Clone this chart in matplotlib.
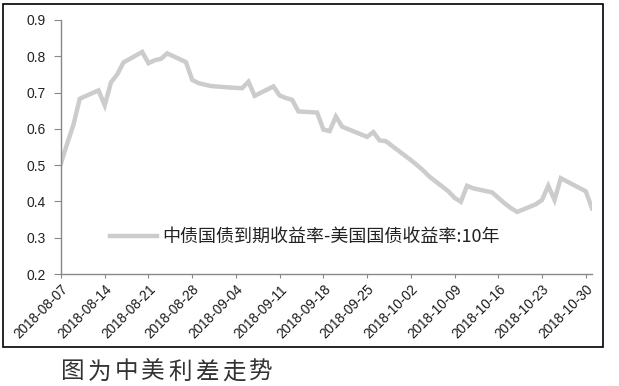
import matplotlib
matplotlib.use("Agg")
import matplotlib.pyplot as plt
import pandas as pd
from matplotlib.patches import Rectangle

dates = ["2018-08-07", "2018-08-08", "2018-08-09", "2018-08-10", "2018-08-13", "2018-08-14",
         "2018-08-15", "2018-08-16", "2018-08-17", "2018-08-20", "2018-08-21", "2018-08-22",
         "2018-08-23", "2018-08-24", "2018-08-27", "2018-08-28", "2018-08-29", "2018-08-30",
         "2018-08-31", "2018-09-03", "2018-09-04", "2018-09-05", "2018-09-06", "2018-09-07",
         "2018-09-10", "2018-09-11", "2018-09-12", "2018-09-13", "2018-09-14", "2018-09-17",
         "2018-09-18", "2018-09-19", "2018-09-20", "2018-09-21", "2018-09-24", "2018-09-25",
         "2018-09-26", "2018-09-27", "2018-09-28", "2018-10-01", "2018-10-02", "2018-10-03",
         "2018-10-04", "2018-10-05", "2018-10-08", "2018-10-09", "2018-10-10", "2018-10-11",
         "2018-10-12", "2018-10-15", "2018-10-16", "2018-10-17", "2018-10-18", "2018-10-19",
         "2018-10-22", "2018-10-23", "2018-10-24", "2018-10-25", "2018-10-26", "2018-10-29",
         "2018-10-30", "2018-10-31"]
spread = [0.505, 0.560, 0.612, 0.683, 0.706, 0.665,
          0.728, 0.750, 0.783, 0.812, 0.781, 0.789,
          0.793, 0.808, 0.784, 0.735, 0.726, 0.722,
          0.718, 0.714, 0.713, 0.712, 0.730, 0.691,
          0.717, 0.692, 0.685, 0.680, 0.648, 0.645,
          0.598, 0.594, 0.634, 0.606, 0.585, 0.578,
          0.591, 0.568, 0.566, 0.527, 0.514, 0.500,
          0.485, 0.468, 0.428, 0.410, 0.399, 0.443,
          0.436, 0.425, 0.410, 0.395, 0.382, 0.371,
          0.392, 0.404, 0.443, 0.404, 0.464, 0.437,
          0.428, 0.381]
xtick_labels = ["2018-08-07", "2018-08-14", "2018-08-21", "2018-08-28", "2018-09-04",
                "2018-09-11", "2018-09-18", "2018-09-25", "2018-10-02", "2018-10-09",
                "2018-10-16", "2018-10-23", "2018-10-30"]
yticks = [0.2, 0.3, 0.4, 0.5, 0.6, 0.7, 0.8, 0.9]
series_name = "中债国债到期收益率-美国国债收益率:10年"
caption = "图为中美利差走势"

plt.rcParams['font.family'] = ['Noto Sans CJK SC', 'DejaVu Sans']

W, H = 619, 386
fig = plt.figure(figsize=(W / 100, H / 100), dpi=100)
fig.patch.set_facecolor("white")

# outer frame
fig.patches.append(Rectangle((3 / W, 1 - 347 / H), 600 / W, 343 / H, transform=fig.transFigure,
                             fill=False, edgecolor="black", linewidth=1.2))

ax = fig.add_axes([61 / W, 1 - 274 / H, 531 / W, 254 / H])
x = pd.to_datetime(dates)
ax.plot(x, spread, color="#cccccc", linewidth=3.2, solid_joinstyle="miter", label=series_name)

ax.set_xlim(pd.Timestamp("2018-08-07"), pd.Timestamp("2018-10-31"))
ax.set_ylim(0.2, 0.9)
ax.set_yticks(yticks)
ax.set_yticklabels([f"{v:.1f}" for v in yticks], fontfamily="Liberation Sans", fontsize=10, color="#222222")
ax.set_xticks(pd.to_datetime(xtick_labels))
ax.set_xticklabels(xtick_labels, rotation=45, ha="right", va="top", rotation_mode="anchor",
                   fontfamily="Liberation Sans", fontsize=9.8, color="#1a1a1a")

for s in ["top", "right"]:
    ax.spines[s].set_visible(False)
for s in ["left", "bottom"]:
    ax.spines[s].set_color("#888888")
    ax.spines[s].set_linewidth(1.0)
ax.tick_params(axis="y", direction="out", length=5, color="#888888", pad=6)
ax.tick_params(axis="x", direction="out", length=3, color="#888888", pad=3)

leg = ax.legend(loc="center left", bbox_to_anchor=(0.092, 0.146), frameon=False,
                borderaxespad=0, borderpad=0, handlelength=2.6, handletextpad=0.3,
                prop={"family": ["Noto Sans CJK SC", "DejaVu Sans"], "size": 13})
for t in leg.get_texts():
    t.set_color("#222222")

# caption, spaced characters
for i, ch in enumerate(caption):
    fig.text((61 + 26.8 * i) / W, 1 - 372 / H, ch, fontsize=17, color="#333333",
             ha="left", va="center", fontfamily=["Noto Sans CJK SC", "DejaVu Sans"], fontweight="light")

fig.savefig("out.png", dpi=100, facecolor="white")
